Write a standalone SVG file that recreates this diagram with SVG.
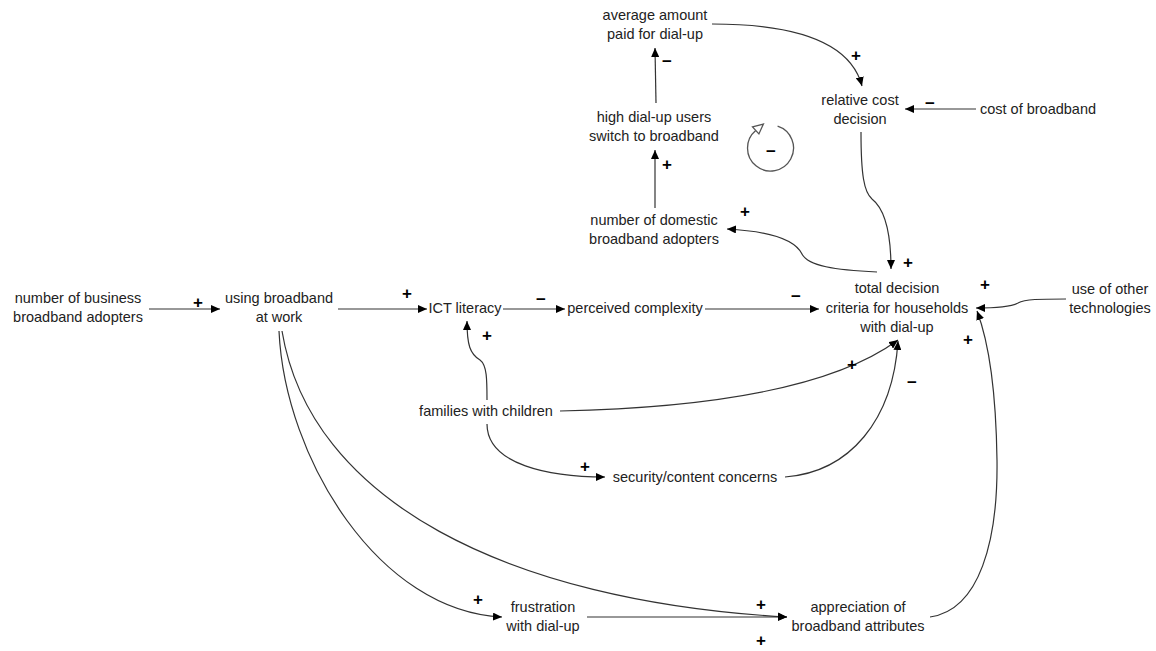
<svg xmlns="http://www.w3.org/2000/svg" width="1156" height="651" viewBox="0 0 1156 651">
<style>
  text { font-family: "Liberation Sans", Arial, sans-serif; font-size: 14.5px; fill: #222; }
  .n text { text-anchor: middle; }
  .sg { font-size: 17px; font-weight: bold; text-anchor: middle; fill: #000; }
  .c { fill: none; stroke: #333; stroke-width: 1.2; marker-end: url(#ah); }
  .loop { fill: none; stroke: #555; stroke-width: 1.3; }
  .loophead { fill: #fff; stroke: #555; stroke-width: 1.3; stroke-linejoin: miter; }
</style>
<defs>
  <marker id="ah" markerUnits="userSpaceOnUse" markerWidth="10" markerHeight="8" refX="9" refY="4" orient="auto">
    <path d="M0,0 L9,4 L0,8 Z" fill="#000"/>
  </marker>
</defs>
<rect width="1156" height="651" fill="#fff"/>

<g id="connectors">
  <path class="c" d="M149,309 L220,309"/>
  <path class="c" d="M338,309 L427,309"/>
  <path class="c" d="M503,309 L565,309"/>
  <path class="c" d="M705,309 L819,309"/>
  <path class="c" d="M976,109 L905,109"/>
  <path class="c" d="M712,24 C790,24 850,40 862,86"/>
  <path class="c" d="M656,103 L655,48"/>
  <path class="c" d="M655,208 L655,150"/>
  <path class="c" d="M861,132 C861,175 864,192 872,199 C886,210 891,235 891,269"/>
  <path class="c" d="M877,272 C835,270 808,266 802,254 C794,238 765,231 727,229"/>
  <path class="c" d="M1066,299 C1040,299 1025,299 1018,303 C1010,307 995,308 976,308"/>
  <path class="c" d="M930,617 C980,610 998,540 997,460 C996,390 988,340 977,311"/>
  <path class="c" d="M560,411 C700,408 830,390 898,340"/>
  <path class="c" d="M785,477 C850,472 893,420 898,341"/>
  <path class="c" d="M487,400 C487,380 487,365 480,360 C470,354 467,345 467,321"/>
  <path class="c" d="M487,424 C487,465 550,477 605,477"/>
  <path class="c" d="M279,331 C285,460 380,612 502,617"/>
  <path class="c" d="M282,331 C310,500 505,601 787,617"/>
  <path class="c" d="M587,617 L787,617"/>
</g>

<g id="loop">
  <path class="loop" d="M777.6,126.1 A23,23 0 1 1 755.7,130.4"/>
  <path class="loophead" d="M763.4,124 L758.9,133.9 L752.5,126.9 Z"/>
  <text class="sg" x="771" y="156.5">−</text>
</g>

<g id="signs">
  <text class="sg" x="198" y="307.5">+</text>
  <text class="sg" x="407" y="298.5">+</text>
  <text class="sg" x="541" y="304.5">−</text>
  <text class="sg" x="796" y="302">−</text>
  <text class="sg" x="487" y="340.5">+</text>
  <text class="sg" x="852" y="369.5">+</text>
  <text class="sg" x="912" y="387.5">−</text>
  <text class="sg" x="585" y="471.5">+</text>
  <text class="sg" x="908" y="267.5">+</text>
  <text class="sg" x="745" y="216.5">+</text>
  <text class="sg" x="667" y="169.5">+</text>
  <text class="sg" x="667" y="66.5">−</text>
  <text class="sg" x="856" y="60.5">+</text>
  <text class="sg" x="930" y="108.5">−</text>
  <text class="sg" x="985" y="289.5">+</text>
  <text class="sg" x="968" y="344.5">+</text>
  <text class="sg" x="478" y="604.5">+</text>
  <text class="sg" x="761" y="609.5">+</text>
  <text class="sg" x="761" y="645.5">+</text>
</g>

<g id="average-amount" class="n"><text x="655" y="20">average amount</text><text x="655" y="39">paid for dial-up</text></g>
<g id="high-dialup" class="n"><text x="654" y="122">high dial-up users</text><text x="654" y="141">switch to broadband</text></g>
<g id="domestic-adopters" class="n"><text x="654" y="225">number of domestic</text><text x="654" y="244">broadband adopters</text></g>
<g id="relative-cost" class="n"><text x="860" y="105">relative cost</text><text x="860" y="124">decision</text></g>
<g id="cost-broadband" class="n"><text x="1038" y="114">cost of broadband</text></g>
<g id="total-decision" class="n"><text x="897" y="293">total decision</text><text x="897" y="313">criteria for households</text><text x="897" y="332">with dial-up</text></g>
<g id="other-tech" class="n"><text x="1110" y="294">use of other</text><text x="1110" y="313">technologies</text></g>
<g id="business-adopters" class="n"><text x="78" y="303">number of business</text><text x="78" y="322">broadband adopters</text></g>
<g id="using-work" class="n"><text x="279" y="303">using broadband</text><text x="279" y="322">at work</text></g>
<g id="ict" class="n"><text x="465" y="313">ICT literacy</text></g>
<g id="complexity" class="n"><text x="635" y="313">perceived complexity</text></g>
<g id="families" class="n"><text x="486" y="416">families with children</text></g>
<g id="security" class="n"><text x="695" y="482">security/content concerns</text></g>
<g id="frustration" class="n"><text x="543" y="612">frustration</text><text x="543" y="631">with dial-up</text></g>
<g id="appreciation" class="n"><text x="858" y="612">appreciation of</text><text x="858" y="631">broadband attributes</text></g>
</svg>
